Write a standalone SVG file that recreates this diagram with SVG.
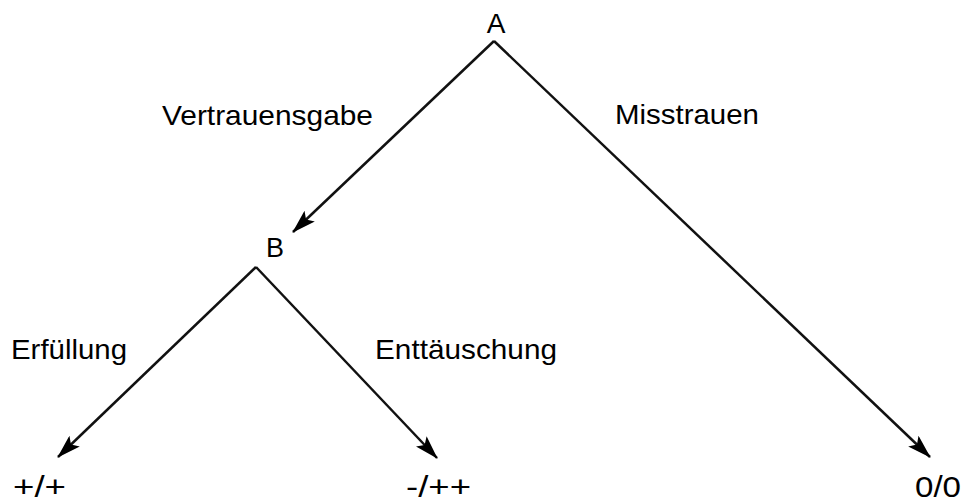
<svg xmlns="http://www.w3.org/2000/svg" width="962" height="502" viewBox="0 0 962 502">
<defs>
<style>
.lbl{font-family:"Liberation Sans",Arial,sans-serif;font-size:28px;fill:#000;}
.leaf{font-size:30px;}
.edge{stroke:#111;stroke-width:2.5;fill:none;marker-end:url(#arr);}
</style>
<marker id="arr" markerUnits="userSpaceOnUse" viewBox="0 0 24 15" refX="23" refY="7.5" markerWidth="24" markerHeight="15" orient="auto">
<path d="M0,0 L24,7.5 L0,15 L5,7.5 Z" fill="#000"/>
</marker>
</defs>
<rect width="962" height="502" fill="#fff"/>
<g id="connectors">
<line class="edge" x1="494" y1="41" x2="293" y2="232"/>
<line class="edge" x1="494" y1="41" x2="930" y2="457"/>
<line class="edge" x1="256" y1="267" x2="58" y2="457"/>
<line class="edge" x1="256" y1="267" x2="437" y2="458"/>
</g>
<g id="nodeA"><text class="lbl" x="496" y="33" text-anchor="middle">A</text></g>
<g id="nodeB"><text class="lbl" x="275" y="257" text-anchor="middle" style="font-size:27px">B</text></g>
<g id="leaf1"><text class="lbl leaf" x="13" y="497" textLength="53" lengthAdjust="spacingAndGlyphs">+/+</text></g>
<g id="leaf2"><text class="lbl leaf" x="406" y="497" textLength="65" lengthAdjust="spacingAndGlyphs">-/++</text></g>
<g id="leaf3"><text class="lbl leaf" x="915" y="497" textLength="46" lengthAdjust="spacingAndGlyphs">0/0</text></g>
<g id="labels">
<text class="lbl" x="162" y="125" textLength="211" lengthAdjust="spacingAndGlyphs">Vertrauensgabe</text>
<text class="lbl" x="615" y="124" textLength="144" lengthAdjust="spacingAndGlyphs">Misstrauen</text>
<text class="lbl" x="11" y="359" textLength="116" lengthAdjust="spacingAndGlyphs">Erfüllung</text>
<text class="lbl" x="375" y="359" textLength="182" lengthAdjust="spacingAndGlyphs">Enttäuschung</text>
</g>
</svg>
